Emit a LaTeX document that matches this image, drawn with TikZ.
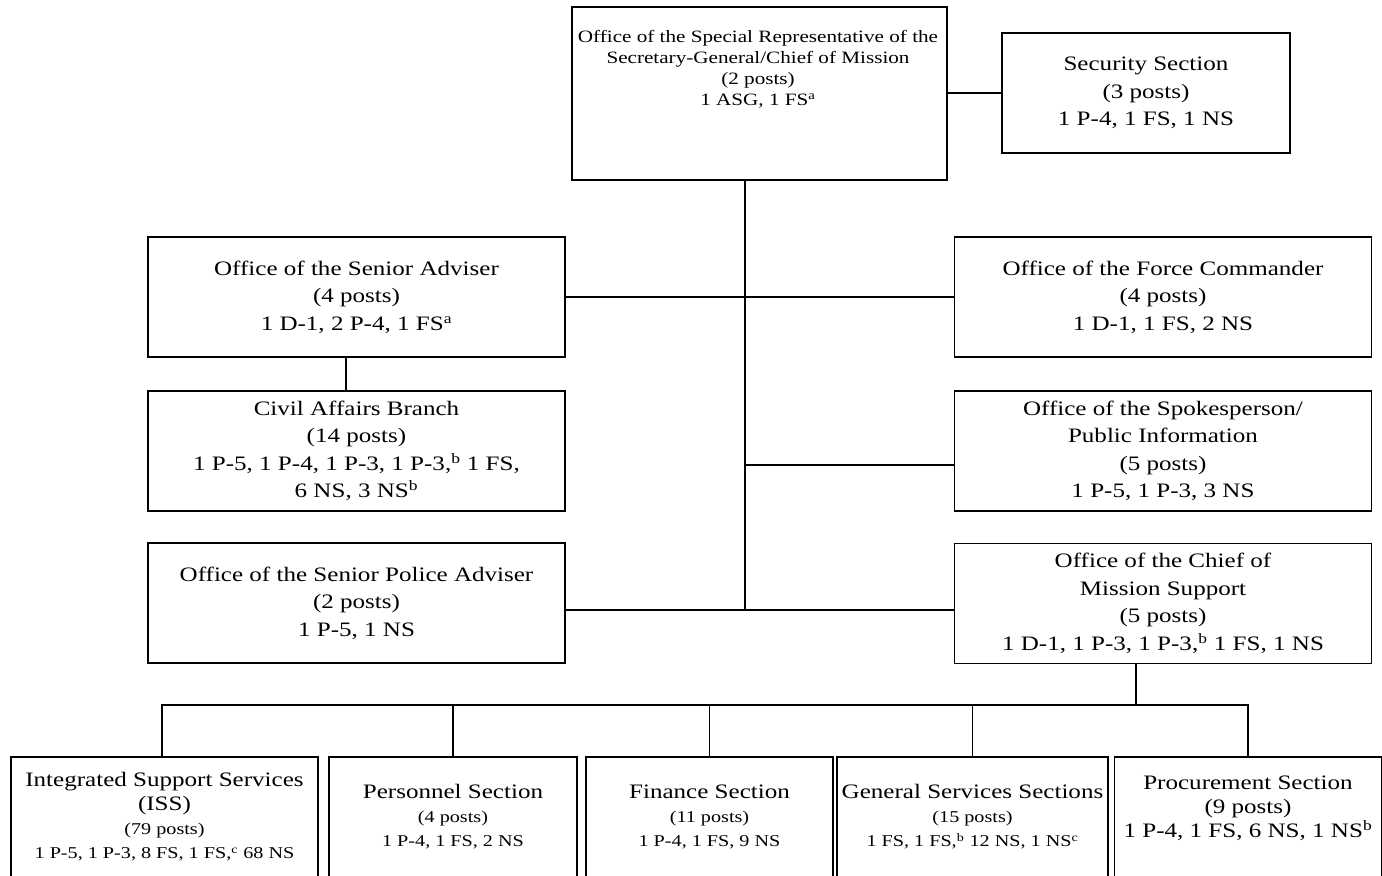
\documentclass[tikz,border=0pt]{standalone}
\usepackage{fontspec}
\setmainfont{Liberation Serif}[FakeStretch=1.22]
\newcommand{\sm}[1]{{\fontsize{12.4}{16}\selectfont #1}}

\begin{document}
\begin{tikzpicture}[x=0.75pt,y=-0.75pt,
  office/.style={draw,rectangle,line width=1.2pt,minimum width=313pt,minimum height=90pt,
                 align=center,font=\fontsize{15.4}{20.6}\selectfont},
  topbox/.style={draw,rectangle,line width=1.2pt,minimum width=281pt,minimum height=130pt},
  toptext/.style={align=center,font=\fontsize{13}{15.8}\selectfont},
  sect/.style={office,minimum height=90pt,font=\fontsize{15.4}{18}\selectfont},
  link/.style={line width=1.2pt}
]
\clip (0,0) rectangle (1382,875);

\node[topbox]  (srsg) at (759.5,93.5) {};
\node[toptext] (srsgtext) at (758,69) {Office of the Special Representative of the\\Secretary-General/Chief of Mission\\(2 posts)\\1 ASG, 1 FS\textsuperscript{a}};
\node[office,minimum width=216pt] (sec) at (1146,93) {Security Section\\(3 posts)\\1 P-4, 1 FS, 1 NS};

\node[office] (sa)  at (356.5,297)  {Office of the Senior Adviser\\(4 posts)\\1 D-1, 2 P-4, 1 FS\textsuperscript{a}};
\node[office] (ca)  at (356.5,451)  {Civil Affairs Branch\\(14 posts)\\1 P-5, 1 P-4, 1 P-3, 1 P-3,\textsuperscript{b} 1 FS,\\6 NS, 3 NS\textsuperscript{b}};
\node[office] (pol) at (356.5,603)  {Office of the Senior Police Adviser\\(2 posts)\\1 P-5, 1 NS};
\node[office] (fc)  at (1163,297)   {Office of the Force Commander\\(4 posts)\\1 D-1, 1 FS, 2 NS};
\node[office] (sp)  at (1163,451)   {Office of the Spokesperson/\\Public Information\\(5 posts)\\1 P-5, 1 P-3, 3 NS};
\node[office] (cms) at (1163,603.5) {Office of the Chief of\\Mission Support\\(5 posts)\\1 D-1, 1 P-3, 1 P-3,\textsuperscript{b} 1 FS, 1 NS};

\node[sect,minimum width=230pt] (iss)  at (164.5,817) {Integrated Support Services\\(ISS)\\\sm{(79 posts)}\\\sm{1 P-5, 1 P-3, 8 FS, 1 FS,\textsuperscript{c} 68 NS}};
\node[sect,minimum width=186pt] (pers) at (453,817)   {Personnel Section\\\sm{(4 posts)}\\\sm{1 P-4, 1 FS, 2 NS}};
\node[sect,minimum width=185pt] (fin)  at (709.5,817) {Finance Section\\\sm{(11 posts)}\\\sm{1 P-4, 1 FS, 9 NS}};
\node[sect,minimum width=202pt] (gen)  at (972.5,817) {General Services Sections\\\sm{(15 posts)}\\\sm{1 FS, 1 FS,\textsuperscript{b} 12 NS, 1 NS\textsuperscript{c}}};
\node[sect,minimum width=200pt] (proc) at (1248,817)  {Procurement Section\\(9 posts)\\1 P-4, 1 FS, 6 NS, 1 NS\textsuperscript{b}\\[-2pt]\mbox{}};

% trunk and branches
\coordinate (trunk) at (745,610);
\coordinate (spj)   at (745,465);
\coordinate (bus)   at (1136,705);

\draw[link] (sec.west) -- (sec.west -| srsg.east);
\draw[link] (srsg.south -| trunk) -- (trunk);
\draw[link] (sa.east) -- (fc.west);
\draw[link] ([xshift=-8pt]sa.south) -- ([xshift=-8pt]ca.north);
\draw[link] (spj) -- (spj -| sp.west);
\draw[link] (trunk -| pol.east) -- (trunk -| cms.west);

\draw[link] (cms.south -| bus) -- (bus);
\draw[link] ([xshift=-2pt]iss.north) |- (proc.north |- bus) -- (proc.north);
\foreach \s in {pers,fin,gen}
  \draw[link] (\s.north) -- (\s.north |- bus);
\end{tikzpicture}
\end{document}
